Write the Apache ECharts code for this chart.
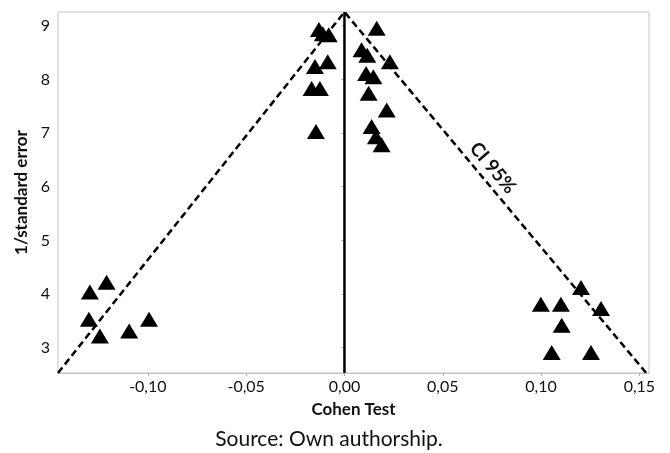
<!DOCTYPE html>
<html>
<head>
<meta charset="utf-8">
<script src="https://cdn.jsdelivr.net/npm/echarts@6/dist/echarts.min.js"></script>
<style>
  html, body { margin: 0; padding: 0; background: #fff; }
  #funnel { width: 670px; height: 453px; }
</style>
</head>
<body>
<div id="funnel"></div>
<script>
// study effect sizes (Cohen) and precision (1/SE)
const effectX = [
  -0.013, -0.011, -0.008, -0.0085, -0.015, -0.0167, -0.0125, -0.0145,
  0.0164, 0.0087, 0.0116, 0.0231, 0.011, 0.0147, 0.0123, 0.0215, 0.0138, 0.016, 0.0189,
  -0.1295, -0.121, -0.13, -0.1244, -0.1095, -0.0994,
  0.1203, 0.0999, 0.1101, 0.1305, 0.1105, 0.1054, 0.1254
]
const precisionY = [
  8.93, 8.85, 8.83, 8.33, 8.24, 7.83, 7.83, 7.03,
  8.95, 8.55, 8.45, 8.33, 8.11, 8.05, 7.74, 7.43, 7.12, 6.93, 6.78,
  4.04, 4.22, 3.53, 3.22, 3.31, 3.53,
  4.12, 3.81, 3.81, 3.73, 3.42, 2.91, 2.91
]
// 95% CI funnel
const funnelX = [-0.1457, 0, 0.1535]
const funnelY = [2.529, 9.255, 2.529]
const centerX = [0, 0]
const centerY = [2.529, 9.255]
const xTicks = [-0.10, -0.05, 0, 0.05, 0.10, 0.15]
const yTicks = [3, 4, 5, 6, 7, 8, 9]

const font = 'Lato'
const chart = echarts.init(document.getElementById('funnel'))
const zip = (a, b) => a.map((v, i) => [v, b[i]])

const option = {
  animation: false,
  grid: {
    left: 58, right: 21, top: 12, bottom: 80,
    show: true, borderColor: '#c4c4c4', borderWidth: 1
  },
  xAxis: {
    type: 'value',
    min: -0.1457,
    max: 0.1549,
    name: 'Cohen Test',
    nameLocation: 'middle',
    nameGap: 28,
    nameTextStyle: { fontFamily: font, fontWeight: 'bold', fontSize: 17, color: '#111' },
    splitLine: { show: false },
    axisLine: { lineStyle: { color: '#c4c4c4' } },
    axisTick: { show: true, length: 3, customValues: xTicks, lineStyle: { color: '#b0b0b0' } },
    axisLabel: {
      customValues: xTicks,
      margin: 6,
      fontFamily: font, fontSize: 16, color: '#111',
      formatter: v => v.toFixed(2).replace('.', ',')
    }
  },
  yAxis: {
    type: 'value',
    min: 2.529,
    max: 9.255,
    name: '1/standard error',
    nameLocation: 'middle',
    nameGap: 27,
    nameTextStyle: { fontFamily: font, fontWeight: 'bold', fontSize: 17, color: '#111' },
    splitLine: { show: false },
    axisLine: { show: true, lineStyle: { color: '#c4c4c4' } },
    axisTick: { show: true, length: 3, customValues: yTicks, lineStyle: { color: '#b0b0b0' } },
    axisLabel: {
      customValues: yTicks,
      margin: 8,
      fontFamily: font, fontSize: 16, color: '#111'
    }
  },
  series: [
    {
      name: 'CI 95%',
      type: 'line',
      data: zip(funnelX, funnelY),
      symbol: 'none',
      lineStyle: { color: '#000', width: 2.5, type: [7, 4] },
      z: 2
    },
    {
      name: 'mean',
      type: 'line',
      data: zip(centerX, centerY),
      symbol: 'none',
      lineStyle: { color: '#000', width: 2.5 },
      z: 2
    },
    {
      name: 'studies',
      type: 'scatter',
      data: zip(effectX, precisionY),
      symbol: 'triangle',
      symbolSize: [18, 15],
      itemStyle: { color: '#000', opacity: 1 },
      z: 3
    }
  ]
}
chart.setOption(option)

// CI label placed along the right funnel edge
const p = chart.convertToPixel({ gridIndex: 0 }, [0.0755, 6.35])
chart.setOption({
  graphic: [
    {
      type: 'text',
      x: p[0], y: p[1],
      rotation: -50 * Math.PI / 180,
      style: {
        text: 'CI 95%',
        fontFamily: font, fontWeight: 'bold', fontSize: 19, fill: '#111',
        align: 'center', verticalAlign: 'middle'
      }
    },
    {
      type: 'text',
      x: 329, y: 439,
      style: {
        text: 'Source: Own authorship.',
        fontFamily: font, fontSize: 21, fill: '#111',
        align: 'center', verticalAlign: 'middle'
      }
    }
  ]
})
</script>
</body>
</html>
